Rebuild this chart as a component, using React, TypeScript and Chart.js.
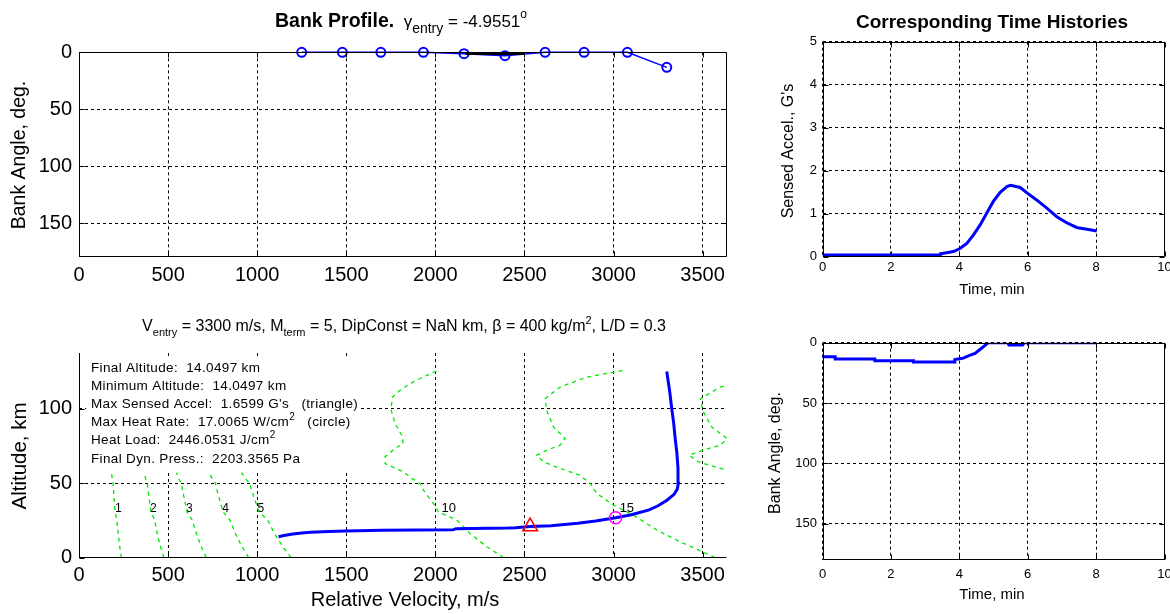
import React, { useEffect, useRef } from 'react';
import { Chart, registerables } from 'chart.js';

Chart.register(...registerables);

const PAGE_W = 1170;
const PAGE_H = 614;
const FONT = "'Liberation Sans', Arial, Helvetica, sans-serif";
const BLUE = '#0000ff';
const GREEN = 'rgb(0,232,0)';

// ---------- Top-left: bank profile vs relative velocity ----------
const bankNodeVelocity = [1250, 1478, 1694, 1933, 2161, 2391, 2616, 2835, 3078, 3299];
const bankNodeAngle = [0, 0, 0, 0, 1.2, 3, 0, 0, 0, 13.2];
const bankRefVelocity = [2170, 2500];
const bankRefAngle = [1.3, 1.3];
const velocityTicks = [0, 500, 1000, 1500, 2000, 2500, 3000, 3500];
const bankTicks = [0, 50, 100, 150];

// ---------- Bottom-left: altitude vs relative velocity ----------
const trajVelocity = [1120, 1150, 1200, 1250, 1300, 1400, 1500, 1700, 1900, 2100, 2115, 2300, 2410, 2450, 2532, 2650, 2800, 2900, 3012, 3100, 3200, 3250, 3300, 3340, 3358, 3364, 3362, 3356, 3346, 3338, 3327, 3315, 3299];
const trajAltitude = [14.0, 14.8, 15.8, 16.5, 17.0, 17.5, 17.9, 18.3, 18.5, 18.6, 19.4, 19.6, 19.8, 20.0, 20.8, 21.4, 23.0, 24.6, 26.7, 28.8, 32.0, 34.8, 38.5, 42.5, 46, 50, 60, 70, 80, 90, 100, 112, 125];
const altitudeTicks = [0, 50, 100];

const machLowAltitude = [0, 7, 16, 25, 31, 36, 43, 46, 50, 53, 57];
const mach1Velocity = [238, 229, 220, 212, 202, 199, 195, 193, 191, 187, 182];
const mach2Velocity = [476, 458, 439, 424, 403, 398, 390, 387, 383, 374, 365];
const mach3Velocity = [714, 687, 659, 636, 605, 597, 585, 580, 574, 560, 547];
const mach4Velocity = [952, 916, 878, 848, 807, 796, 780, 773, 766, 747, 730];
const mach5Velocity = [1190, 1145, 1098, 1060, 1009, 995, 975, 967, 957, 934, 912];
const mach10Altitude = [0, 7.2, 16.2, 25.2, 30.7, 36.4, 45.3, 47, 49.8, 53.2, 57.6, 63.2, 67.7, 73.3, 76.6, 82.2, 90, 100.1, 108, 112.4, 117, 122.5, 126.5];
const mach10Velocity = [2382, 2289, 2195, 2120, 2017, 1989, 1933, 1925, 1914, 1868, 1820, 1718, 1718, 1774, 1820, 1811, 1774, 1750, 1761, 1802, 1858, 1952, 2026];
const mach15Altitude = [0, 10.6, 18.5, 28.5, 35.2, 43.1, 46, 49.8, 55.4, 59.9, 64.3, 68.8, 72.1, 75.5, 80, 87.8, 99, 106.8, 114.6, 121.3, 125.8];
const mach15Velocity = [3570, 3373, 3243, 3112, 3000, 2906, 2890, 2869, 2812, 2700, 2607, 2569, 2625, 2700, 2728, 2663, 2625, 2616, 2700, 2850, 3056];
const mach20Altitude = [50, 55.4, 59.9, 64.3, 68.8, 72.1, 75.5, 80, 87.8, 99, 106.8, 114.6, 121.3];
const mach20Velocity = [3825, 3749, 3600, 3476, 3425, 3500, 3600, 3637, 3551, 3500, 3488, 3600, 3800];
const machLabels = ['1', '2', '3', '4', '5', '10', '15'];
const machLabelVelocity = [221, 417, 619, 823, 1020, 2075, 3075];
const machLabelAltitude = [32.5, 32.5, 32.5, 32.5, 32.5, 33, 33];
const accelMarkVelocity = [2532];
const accelMarkAltitude = [20.8];
const heatMarkVelocity = [3012];
const heatMarkAltitude = [26.7];

// ---------- Top-right: sensed acceleration vs time ----------
const timeTicks = [0, 2, 4, 6, 8, 10];
const accelTicks = [0, 1, 2, 3, 4, 5];
const accelTime = [0, 3.44, 3.45, 3.83, 4.02, 4.22, 4.41, 4.61, 4.8, 4.99, 5.19, 5.39, 5.5, 5.78, 5.97, 6.26, 6.56, 6.85, 7.14, 7.43, 7.73, 8.02];
const accelG = [0.04, 0.04, 0.07, 0.12, 0.19, 0.31, 0.5, 0.74, 1.01, 1.28, 1.49, 1.63, 1.66, 1.61, 1.49, 1.32, 1.13, 0.93, 0.79, 0.68, 0.64, 0.6];

// ---------- Bottom-right: bank angle vs time ----------
const bankTime = [0, 0.37, 0.37, 1.53, 1.53, 2.66, 2.66, 3.87, 3.87, 4.1, 4.3, 4.46, 4.65, 4.85, 5.42, 5.45, 5.85, 5.9, 8.02];
const bankHistory = [11.6, 11.6, 13.5, 13.5, 14.9, 14.9, 15.9, 15.9, 13.9, 12.9, 10.5, 8.8, 4.6, 0, 0, 2, 2, 0, 0];

type Seg = { t: string; size: number; bold?: boolean; dy?: number };

const pts = (xs: number[], ys: number[]) => xs.map((x, i) => ({ x, y: ys[i] }));

function lineDS(xs: number[], ys: number[], color: string, width: number, dash: number[] = []) {
  return {
    data: pts(xs, ys),
    borderColor: color,
    backgroundColor: color,
    borderWidth: width,
    borderDash: dash,
    pointRadius: 0,
    fill: false,
    tension: 0,
    showLine: true,
  };
}

function scaleOpts(min: number, max: number, ticks: number[], horizontal: boolean, reverse = false) {
  return {
    type: 'linear',
    min,
    max,
    reverse,
    afterBuildTicks: (s: any) => {
      s.ticks = ticks.map((v) => ({ value: v }));
    },
    afterFit: (s: any) => {
      if (horizontal) s.height = 0;
      else s.width = 0;
    },
    ticks: { display: false },
    grid: { color: '#000', lineWidth: 1, drawTicks: false },
    border: { display: false, dash: [3, 3] },
  };
}

function baseOptions(box: { l: number; t: number; r: number; b: number }, xs: any, ys: any) {
  return {
    responsive: false,
    maintainAspectRatio: false,
    animation: false,
    devicePixelRatio: 1,
    events: [],
    layout: { padding: { left: box.l, top: box.t, right: PAGE_W - box.r, bottom: PAGE_H - box.b } },
    plugins: { legend: { display: false }, tooltip: { enabled: false }, title: { display: false } },
    scales: { x: xs, y: ys },
  };
}

function label(
  ctx: CanvasRenderingContext2D,
  t: string,
  x: number,
  y: number,
  size: number,
  o: { align?: CanvasTextAlign; baseline?: CanvasTextBaseline; bold?: boolean; rotate?: number } = {}
) {
  ctx.save();
  ctx.fillStyle = '#000';
  ctx.font = `${o.bold ? 'bold ' : ''}${size}px ${FONT}`;
  ctx.textAlign = o.align || 'center';
  ctx.textBaseline = o.baseline || 'middle';
  ctx.translate(x, y);
  if (o.rotate) ctx.rotate(o.rotate);
  ctx.fillText(t, 0, 0);
  ctx.restore();
}

function rich(ctx: CanvasRenderingContext2D, segs: Seg[], x: number, y: number, align: 'left' | 'center', spacing = '0px') {
  ctx.save();
  ctx.fillStyle = '#000';
  ctx.textAlign = 'left';
  ctx.textBaseline = 'alphabetic';
  (ctx as any).letterSpacing = spacing;
  const f = (s: Seg) => `${s.bold ? 'bold ' : ''}${s.size}px ${FONT}`;
  const ws = segs.map((s) => {
    ctx.font = f(s);
    return ctx.measureText(s.t).width;
  });
  const total = ws.reduce((a, b) => a + b, 0);
  let cx = align === 'center' ? x - total / 2 : x;
  segs.forEach((s, i) => {
    ctx.font = f(s);
    ctx.fillText(s.t, cx, y + (s.dy || 0));
    cx += ws[i];
  });
  ctx.restore();
}

type Deco = {
  xTicks: number[];
  yTicks: number[];
  box: boolean;
  tickFont: number;
  xTickY: number;
  yTickRight: number;
  extra?: (chart: any) => void;
};

function decoPlugin(cfg: Deco) {
  return {
    id: 'deco',
    afterDraw(chart: any) {
      const { ctx, chartArea: a } = chart;
      const xs = chart.scales.x;
      const ys = chart.scales.y;
      const L = Math.round(a.left) + 0.5;
      const R = Math.round(a.right) - 0.5;
      const T = Math.round(a.top) + 0.5;
      const B = Math.round(a.bottom) - 0.5;
      const len = 5;
      ctx.save();
      ctx.strokeStyle = '#000';
      ctx.lineWidth = 1;
      ctx.setLineDash([]);
      ctx.beginPath();
      if (cfg.box) {
        ctx.rect(L, T, R - L, B - T);
      } else {
        ctx.moveTo(L, T);
        ctx.lineTo(L, B);
        ctx.lineTo(R, B);
      }
      ctx.stroke();
      ctx.beginPath();
      cfg.xTicks.forEach((v) => {
        const p = Math.round(xs.getPixelForValue(v)) + 0.5;
        ctx.moveTo(p, B);
        ctx.lineTo(p, B - len);
        if (cfg.box) {
          ctx.moveTo(p, T);
          ctx.lineTo(p, T + len);
        }
      });
      cfg.yTicks.forEach((v) => {
        const p = Math.round(ys.getPixelForValue(v)) + 0.5;
        ctx.moveTo(L, p);
        ctx.lineTo(L + len, p);
        if (cfg.box) {
          ctx.moveTo(R, p);
          ctx.lineTo(R - len, p);
        }
      });
      ctx.stroke();
      ctx.restore();
      cfg.xTicks.forEach((v) => label(ctx, String(v), xs.getPixelForValue(v), cfg.xTickY, cfg.tickFont));
      cfg.yTicks.forEach((v) =>
        label(ctx, String(v), cfg.yTickRight, ys.getPixelForValue(v), cfg.tickFont, { align: 'right' })
      );
      if (cfg.extra) cfg.extra(chart);
    },
  };
}

function makeTopLeft(canvas: HTMLCanvasElement) {
  const box = { l: 79, t: 52.3, r: 727, b: 257.3 };
  return new Chart(canvas, {
    type: 'line',
    data: {
      datasets: [
        { ...lineDS(bankRefVelocity, bankRefAngle, '#000', 2.5), clip: false },
        {
          ...lineDS(bankNodeVelocity, bankNodeAngle, BLUE, 1.5),
          clip: false,
          pointRadius: 4.5,
          pointStyle: 'circle',
          pointBorderWidth: 2,
          pointBorderColor: BLUE,
          pointBackgroundColor: 'rgba(0,0,0,0)',
        },
      ],
    },
    options: baseOptions(box, scaleOpts(0, 3637, velocityTicks, true), scaleOpts(0, 180, bankTicks, false, true)) as any,
    plugins: [
      decoPlugin({
        xTicks: velocityTicks,
        yTicks: bankTicks,
        box: true,
        tickFont: 20,
        xTickY: 275,
        yTickRight: 72,
        extra: (chart) => {
          const ctx = chart.ctx;
          rich(
            ctx,
            [
              { t: 'Bank Profile.', size: 19.5, bold: true },
              { t: '  \u03b3', size: 17 },
              { t: 'entry', size: 14, dy: 6 },
              { t: ' = -4.9551', size: 17 },
              { t: 'o', size: 12, dy: -9 },
            ],
            401,
            27,
            'center'
          );
          label(ctx, 'Bank Angle, deg.', 20, 155, 19.5, { rotate: -Math.PI / 2 });
        },
      }) as any,
    ],
  });
}

function makeBottomLeft(canvas: HTMLCanvasElement) {
  const box = { l: 79, t: 353, r: 727, b: 557.5 };
  const dash = [4, 4];
  const textBox = {
    id: 'statsBox',
    beforeDatasetsDraw(chart: any) {
      const ctx = chart.ctx;
      ctx.save();
      ctx.fillStyle = '#fff';
      ctx.fillRect(86, 356, 272, 115);
      ctx.restore();
      const sz = 13.5;
      const sp = '0.35px';
      const lines: Seg[][] = [
        [{ t: 'Final Altitude:  14.0497 km', size: sz }],
        [{ t: 'Minimum Altitude:  14.0497 km', size: sz }],
        [{ t: "Max Sensed Accel:  1.6599 G's   (triangle)", size: sz }],
        [
          { t: 'Max Heat Rate:  17.0065 W/cm', size: sz },
          { t: '2', size: 10, dy: -6 },
          { t: '   (circle)', size: sz },
        ],
        [
          { t: 'Heat Load:  2446.0531 J/cm', size: sz },
          { t: '2', size: 10, dy: -6 },
        ],
        [{ t: 'Final Dyn. Press.:  2203.3565 Pa', size: sz }],
      ];
      const baselines = [372, 390, 408, 426, 444, 463];
      lines.forEach((l, i) => rich(ctx, l, 91, baselines[i], 'left', sp));
      const xs = chart.scales.x;
      const ys = chart.scales.y;
      machLabels.forEach((m, i) =>
        label(ctx, m, xs.getPixelForValue(machLabelVelocity[i]), ys.getPixelForValue(machLabelAltitude[i]), m.length > 1 ? 13 : 12)
      );
    },
  };
  return new Chart(canvas, {
    type: 'line',
    data: {
      datasets: [
        {
          ...lineDS(heatMarkVelocity, heatMarkAltitude, '#ff00ff', 1),
          showLine: false,
          pointRadius: 6,
          pointStyle: 'circle',
          pointBorderWidth: 1.5,
          pointBorderColor: '#ff00ff',
          pointBackgroundColor: 'rgba(0,0,0,0)',
        },
        {
          ...lineDS(accelMarkVelocity, accelMarkAltitude, '#ff0000', 1),
          showLine: false,
          pointRadius: 8.5,
          pointStyle: 'triangle',
          pointBorderWidth: 1.5,
          pointBorderColor: '#ff0000',
          pointBackgroundColor: 'rgba(0,0,0,0)',
        },
        lineDS(trajVelocity, trajAltitude, BLUE, 3),
        lineDS(mach1Velocity, machLowAltitude, GREEN, 1.3, dash),
        lineDS(mach2Velocity, machLowAltitude, GREEN, 1.3, dash),
        lineDS(mach3Velocity, machLowAltitude, GREEN, 1.3, dash),
        lineDS(mach4Velocity, machLowAltitude, GREEN, 1.3, dash),
        lineDS(mach5Velocity, machLowAltitude, GREEN, 1.3, dash),
        lineDS(mach10Velocity, mach10Altitude, GREEN, 1.3, dash),
        lineDS(mach15Velocity, mach15Altitude, GREEN, 1.3, dash),
        lineDS(mach20Velocity, mach20Altitude, GREEN, 1.3, dash),
      ],
    },
    options: baseOptions(box, scaleOpts(0, 3637, velocityTicks, true), scaleOpts(0, 137.5, altitudeTicks, false)) as any,
    plugins: [
      textBox as any,
      decoPlugin({
        xTicks: velocityTicks,
        yTicks: altitudeTicks,
        box: false,
        tickFont: 20,
        xTickY: 575,
        yTickRight: 72,
        extra: (chart) => {
          const ctx = chart.ctx;
          rich(
            ctx,
            [
              { t: 'V', size: 16 },
              { t: 'entry', size: 11, dy: 5 },
              { t: ' = 3300 m/s, M', size: 16 },
              { t: 'term', size: 11, dy: 5 },
              { t: ' = 5, DipConst = NaN km, \u03b2 = 400 kg/m', size: 16 },
              { t: '2', size: 11, dy: -7 },
              { t: ', L/D = 0.3', size: 16 },
            ],
            404,
            331,
            'center'
          );
          label(ctx, 'Relative Velocity, m/s', 405, 600, 20);
          label(ctx, 'Altitude, km', 20, 456, 20.5, { rotate: -Math.PI / 2 });
        },
      }) as any,
    ],
  });
}

function makeTopRight(canvas: HTMLCanvasElement) {
  const box = { l: 822.5, t: 41.7, r: 1164.5, b: 256.7 };
  return new Chart(canvas, {
    type: 'line',
    data: { datasets: [lineDS(accelTime, accelG, BLUE, 3)] },
    options: baseOptions(box, scaleOpts(0, 10, timeTicks, true), scaleOpts(0, 5, accelTicks, false)) as any,
    plugins: [
      decoPlugin({
        xTicks: timeTicks,
        yTicks: accelTicks,
        box: true,
        tickFont: 13,
        xTickY: 267,
        yTickRight: 817,
        extra: (chart) => {
          const ctx = chart.ctx;
          label(ctx, 'Corresponding Time Histories', 992, 28, 19, { bold: true, baseline: 'alphabetic' });
          label(ctx, 'Time, min', 992, 290, 15);
          label(ctx, "Sensed Accel., G's", 789, 151, 16, { rotate: -Math.PI / 2 });
        },
      }) as any,
    ],
  });
}

function makeBottomRight(canvas: HTMLCanvasElement) {
  const box = { l: 822.5, t: 342.7, r: 1164.5, b: 560 };
  return new Chart(canvas, {
    type: 'line',
    data: { datasets: [lineDS(bankTime, bankHistory, BLUE, 3)] },
    options: baseOptions(box, scaleOpts(0, 10, timeTicks, true), scaleOpts(0, 180, bankTicks, false, true)) as any,
    plugins: [
      decoPlugin({
        xTicks: timeTicks,
        yTicks: bankTicks,
        box: true,
        tickFont: 13,
        xTickY: 574,
        yTickRight: 817,
        extra: (chart) => {
          const ctx = chart.ctx;
          label(ctx, 'Time, min', 992, 595, 15);
          label(ctx, 'Bank Angle, deg.', 776, 453, 16, { rotate: -Math.PI / 2 });
        },
      }) as any,
    ],
  });
}

export default function App() {
  const r1 = useRef<HTMLCanvasElement>(null);
  const r2 = useRef<HTMLCanvasElement>(null);
  const r3 = useRef<HTMLCanvasElement>(null);
  const r4 = useRef<HTMLCanvasElement>(null);

  useEffect(() => {
    const charts = [
      makeTopLeft(r1.current!),
      makeBottomLeft(r2.current!),
      makeTopRight(r3.current!),
      makeBottomRight(r4.current!),
    ];
    return () => charts.forEach((c) => c.destroy());
  }, []);

  const cs: React.CSSProperties = { position: 'absolute', left: 0, top: 0, width: PAGE_W, height: PAGE_H };
  return (
    <div
      style={{ position: 'fixed', left: 0, top: 0, width: PAGE_W, height: PAGE_H, background: '#fff', overflow: 'hidden' }}
    >
      <canvas ref={r1} width={PAGE_W} height={PAGE_H} style={cs} />
      <canvas ref={r2} width={PAGE_W} height={PAGE_H} style={cs} />
      <canvas ref={r3} width={PAGE_W} height={PAGE_H} style={cs} />
      <canvas ref={r4} width={PAGE_W} height={PAGE_H} style={cs} />
    </div>
  );
}
